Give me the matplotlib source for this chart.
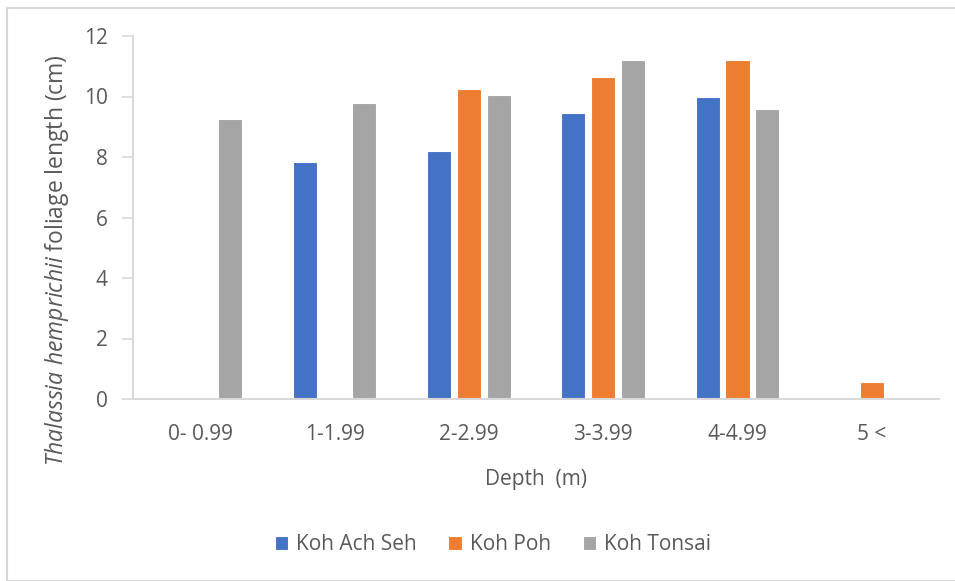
import matplotlib
matplotlib.use("Agg")
import matplotlib.pyplot as plt
import numpy as np
from matplotlib.patches import Rectangle

plt.rcParams["font.family"] = ["Open Sans", "DejaVu Sans"]
plt.rcParams["mathtext.fontset"] = "custom"
plt.rcParams["mathtext.rm"] = "Open Sans"
plt.rcParams["mathtext.it"] = "Open Sans:italic"

categories = ["0- 0.99", "1-1.99", "2-2.99", "3-3.99", "4-4.99", "5 <"]
series_names = ["Koh Ach Seh", "Koh Poh", "Koh Tonsai"]
koh_ach_seh = [0, 7.85, 8.2, 9.45, 10.0, 0]
koh_poh = [0, 0, 10.25, 10.65, 11.2, 0.55]
koh_tonsai = [9.25, 9.8, 10.05, 11.2, 9.6, 0]
colors = ["#4472C4", "#ED7D31", "#A5A5A5"]
text_color = "#595959"
axis_color = "#D9D9D9"
fs = 15

fig = plt.figure(figsize=(9.55, 5.81), dpi=100)
W, H = 955, 581

# chart area border
fig.patches.append(Rectangle((7 / W, 0), 2, 1 - 8 / H, transform=fig.transFigure,
                             fill=False, edgecolor=axis_color, linewidth=1.5, zorder=0))

ax = fig.add_axes([133 / W, 1 - 399 / H, (939 - 133) / W, (399 - 36) / H])

x = np.arange(len(categories))
step = 0.223
width = 0.179
for i, (name, vals) in enumerate(zip(series_names, [koh_ach_seh, koh_poh, koh_tonsai])):
    ax.bar(x + (i - 1) * step, vals, width=width, color=colors[i], label=name,
           edgecolor="white", linewidth=0.8, zorder=2)

ax.set_xlim(-0.5, len(categories) - 0.5)
ax.set_ylim(0, 12)
ax.set_yticks(range(0, 13, 2))
ax.set_xticks(x)
ax.set_xticklabels(categories)

for side in ["top", "right"]:
    ax.spines[side].set_visible(False)
for side in ["left", "bottom"]:
    ax.spines[side].set_color(axis_color)
    ax.spines[side].set_linewidth(1.5)

ax.tick_params(axis="y", length=8, width=1.2, color=axis_color, pad=10,
               labelsize=fs, labelcolor=text_color)
ax.tick_params(axis="x", length=0, pad=18, labelsize=fs, labelcolor=text_color)

ax.set_xlabel("Depth  (m)", fontsize=fs, color=text_color, labelpad=17)
fig.text(57 / W, 1 - 260 / H, r"$\it{Thalassia\ hemprichii}$ foliage length (cm)",
         rotation=90, ha="center", va="center", fontsize=16.5, color=text_color)

leg = fig.legend(loc="center", bbox_to_anchor=(493 / W, 1 - 545 / H), ncol=3,
                 frameon=False, fontsize=fs, handlelength=0.65, handleheight=0.65,
                 handletextpad=0.4, columnspacing=1.5)
for t in leg.get_texts():
    t.set_color(text_color)

fig.savefig("out.png", dpi=100, facecolor="white")
